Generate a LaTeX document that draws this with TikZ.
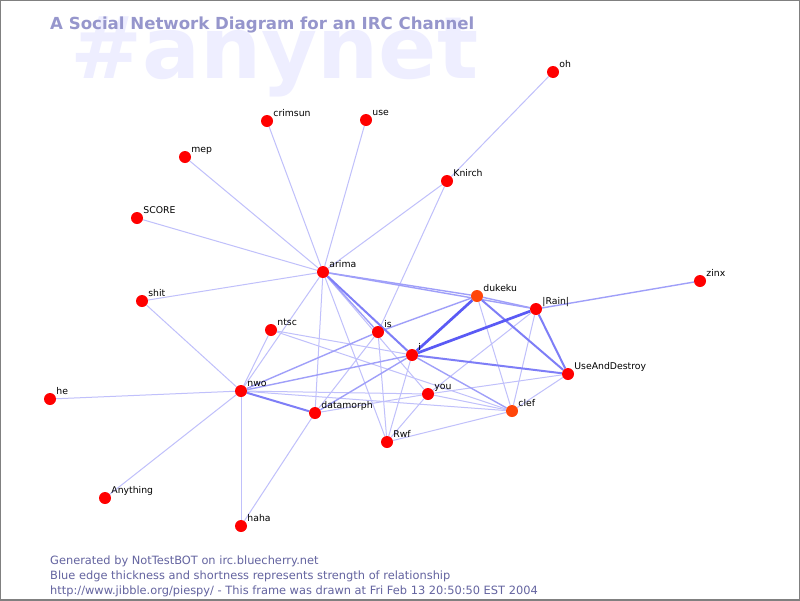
\documentclass[tikz,border=0pt]{standalone}
\usepackage{fontspec}
\setmainfont{DejaVu Sans}
\usetikzlibrary{backgrounds}
\definecolor{nickred}{RGB}{255,0,0}
\definecolor{nickorange}{RGB}{255,70,10}
\definecolor{edgeblue}{RGB}{90,90,245}
\definecolor{titleblue}{RGB}{150,150,204}
\definecolor{markblue}{RGB}{238,238,255}
\definecolor{footblue}{RGB}{100,100,160}
\begin{document}
\begin{tikzpicture}[x=1pt, y=-1pt,
	person/.style={circle, fill=nickred, minimum size=12pt, inner sep=0pt},
	busy/.style={person, fill=nickorange},
	nick/.style={anchor=base west, inner sep=0pt, yshift=5pt, font=\fontsize{9.3}{11}\selectfont},
	weak/.style={draw=edgeblue!38, line width=1pt},
	fair/.style={draw=edgeblue!58, line width=1.4pt},
	good/.style={draw=edgeblue!78, line width=2pt},
	strong/.style={draw=edgeblue, line width=2.7pt}]
	
	% frame
	\useasboundingbox (0,0) rectangle (800,600);
	\draw[gray, line width=2pt] (0,0) rectangle (800,600);
	
	% title
	\node[anchor=base west, inner sep=0pt, text=titleblue,
	font=\fontsize{16.6}{18}\selectfont\bfseries] (title) at (50,29)
	{A Social Network Diagram for an IRC Channel};
	
	% nicks
	\node[person, label={[nick]0:oh}] (oh) at (553,72) {};
	\node[person, label={[nick]0:crimsun}] (crimsun) at (267,121) {};
	\node[person, label={[nick]0:use}] (use) at (366,120) {};
	\node[person, label={[nick]0:mep}] (mep) at (185,157) {};
	\node[person, label={[nick]0:Knirch}] (knirch) at (447,181) {};
	\node[person, label={[nick]0:SCORE}] (score) at (137,218) {};
	\node[person, label={[nick]0:arima}] (arima) at (323,272) {};
	\node[person, label={[nick]0:shit}] (shit) at (142,301) {};
	\node[person, label={[nick]0:zinx}] (zinx) at (700,281) {};
	\node[busy, label={[nick]0:dukeku}] (dukeku) at (477,296) {};
	\node[person, label={[nick]0:|Rain|}] (rain) at (536,309) {};
	\node[person, label={[nick]0:ntsc}] (ntsc) at (271,330) {};
	\node[person, label={[nick]0:is}] (is) at (378,332) {};
	\node[person, label={[nick]0:i}] (i) at (412,355) {};
	\node[person, label={[nick]0:UseAndDestroy}] (uad) at (568,374) {};
	\node[person, label={[nick]0:he}] (he) at (50,399) {};
	\node[person, label={[nick]0:nwo}] (nwo) at (241,391) {};
	\node[person, label={[nick]0:you}] (you) at (428,394) {};
	\node[person, label={[nick]0:datamorph}] (datamorph) at (315,413) {};
	\node[busy, label={[nick]0:clef}] (clef) at (512,411) {};
	\node[person, label={[nick]0:Rwf}] (rwf) at (387,442) {};
	\node[person, label={[nick]0:Anything}] (anything) at (105,498) {};
	\node[person, label={[nick]0:haha}] (haha) at (241,526) {};
	
	% footer
	\node[anchor=base west, inner sep=0pt, text=footblue, align=left,
	font=\fontsize{11.4}{15}\selectfont] (footer) at (50,594)
	{Generated by NotTestBOT on irc.bluecherry.net\\
	Blue edge thickness and shortness represents strength of relationship\\
	http://www.jibble.org/piespy/ - This frame was drawn at Fri Feb 13 20:50:50 EST 2004};
	
	\begin{scope}[on background layer]
		\fill[white] (0,0) rectangle (800,600);
		% channel name
		\node[anchor=base west, inner sep=0pt, text=markblue,
		font=\fontsize{86}{86}\selectfont\bfseries] (channel) at (70,78) {\#anynet};
		
		% edges
		\draw[weak] (arima) -- (crimsun);
		\draw[weak] (arima) -- (use);
		\draw[weak] (arima) -- (mep);
		\draw[weak] (arima) -- (score);
		\draw[weak] (arima) -- (shit);
		\draw[weak] (arima) -- (knirch);
		\draw[weak] (knirch) -- (oh);
		\draw[weak] (knirch) -- (is);
		\draw[fair] (rain) -- (zinx);
		\draw[weak] (shit) -- (nwo);
		\draw[weak] (he) -- (nwo);
		\draw[weak] (anything) -- (nwo);
		\draw[weak] (haha) -- (nwo);
		\draw[weak] (haha) -- (datamorph);
		\draw[weak] (nwo) -- (ntsc);
		\draw[weak] (arima) -- (nwo);
		\draw[weak] (arima) -- (datamorph);
		\draw[weak] (arima) -- (rwf);
		\draw[weak] (arima) -- (you);
		\draw[weak] (ntsc) -- (i);
		\draw[weak] (ntsc) -- (clef);
		\draw[weak] (nwo) -- (you);
		\draw[weak] (nwo) -- (clef);
		\draw[weak] (datamorph) -- (you);
		\draw[weak] (is) -- (rwf);
		\draw[weak] (is) -- (datamorph);
		\draw[weak] (i) -- (rwf);
		\draw[weak] (you) -- (rwf);
		\draw[weak] (rwf) -- (clef);
		\draw[weak] (you) -- (uad);
		\draw[weak] (you) -- (clef);
		\draw[weak] (rain) -- (you);
		\draw[weak] (rain) -- (clef);
		\draw[weak] (uad) -- (clef);
		\draw[weak] (dukeku) -- (clef);
		\draw[fair] (i) -- (datamorph);
		\draw[fair] (is) -- (dukeku);
		\draw[fair] (nwo) -- (is);
		\draw[fair] (nwo) -- (i);
		\draw[fair] (arima) -- (is);
		\draw[good] (arima) -- (i);
		\draw[fair] (arima) -- (dukeku);
		\draw[fair] (arima) -- (rain);
		\draw[fair] (i) -- (clef);
		\draw[fair] (dukeku) -- (rain);
		\draw[good] (dukeku) -- (uad);
		\draw[good] (rain) -- (uad);
		\draw[good] (i) -- (uad);
		\draw[good] (nwo) -- (datamorph);
		\draw[strong] (i) -- (dukeku);
		\draw[strong] (i) -- (rain);
	\end{scope}
	
\end{tikzpicture}
\end{document}
